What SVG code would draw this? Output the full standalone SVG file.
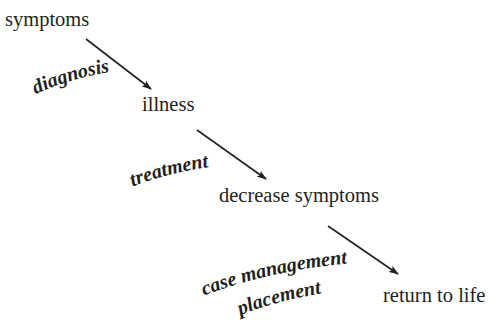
<svg xmlns="http://www.w3.org/2000/svg" xmlns:xlink="http://www.w3.org/1999/xlink" width="492" height="320" viewBox="0 0 492 320">
<style>
.n{font-family:"Liberation Serif","Times New Roman",serif;font-size:20.5px;fill:#231f20}
.l{font-family:"Liberation Serif","Times New Roman",serif;font-size:20px;font-weight:bold;font-style:italic;fill:#231f20}
.c{stroke:#231f20;stroke-width:1.6;fill:none;marker-end:url(#ah)}
</style>
<defs>
<marker id="ah" markerWidth="10" markerHeight="8" refX="9" refY="4" orient="auto" markerUnits="userSpaceOnUse">
<path d="M0,0.5 L10,4 L0,7.5 L2,4 Z" fill="#231f20"/>
</marker>
<path id="p1" d="M30,97 Q68,78 116,71"/>
<path id="p2" d="M124,190 Q166,172 218,166"/>
<path id="p3" d="M198,298 Q268,270 354,263"/>
<path id="p4" d="M232,318 Q277,300 330,292"/>
</defs>
<g id="symptoms"><text class="n" x="5" y="26">symptoms</text></g>
<g id="illness"><text class="n" x="142" y="111">illness</text></g>
<g id="decrease"><text class="n" x="219" y="202">decrease symptoms</text></g>
<g id="return"><text class="n" x="383" y="302">return to life</text></g>
<g id="connectors">
<line class="c" x1="86" y1="39" x2="151" y2="89"/>
<line class="c" x1="197" y1="130" x2="266" y2="179"/>
<line class="c" x1="328" y1="226" x2="398" y2="274"/>
<text class="l" text-anchor="middle"><textPath xlink:href="#p1" href="#p1" startOffset="50%">diagnosis</textPath></text>
<text class="l" text-anchor="middle"><textPath xlink:href="#p2" href="#p2" startOffset="50%">treatment</textPath></text>
<text class="l" text-anchor="middle"><textPath xlink:href="#p3" href="#p3" startOffset="50%">case management</textPath></text>
<text class="l" text-anchor="middle"><textPath xlink:href="#p4" href="#p4" startOffset="50%">placement</textPath></text>
</g>
</svg>
